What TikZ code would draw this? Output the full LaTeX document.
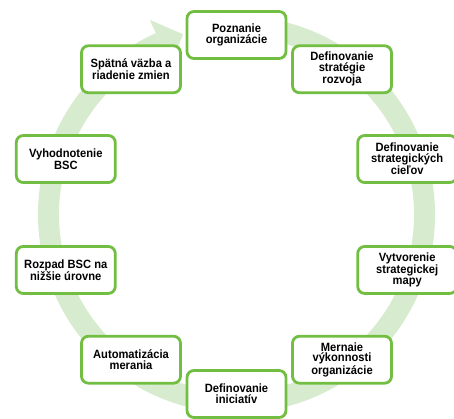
\documentclass[tikz,border=0pt]{standalone}
\usepackage{fontspec}
\setmainfont{Liberation Sans}[FakeStretch=0.93]
\definecolor{boxgreen}{RGB}{114,190,66}
\definecolor{ringgreen}{RGB}{215,236,207}
\tikzset{
  stepbox/.style={
    draw=boxgreen,
    line width=2.8pt,
    fill=white,
    rounded corners=7pt,
    minimum width=99pt,
    minimum height=47pt,
    inner sep=1pt,
    align=center,
    font=\bfseries\fontsize{12}{10.6}\selectfont
  },
  ring/.style={draw=ringgreen, line width=21pt}
}

\begin{document}
\begin{tikzpicture}[x=1pt,y=1pt]
\useasboundingbox (0,0) rectangle (454,419);
\begin{scope}[shift={(236.5,204.5)}]
% cyklus
\draw[ring] (100:188) arc[start angle=100, end angle=-246, radius=188];
\fill[ringgreen] (-246:163) -- (-246:213) -- (-253.5:188) -- cycle;
\foreach \ang/\nm/\txt in {
  90/poznanie/{Poznanie\\organizácie},
  54/strategia/{Definovanie\\stratégie\\rozvoja},
  18/ciele/{Definovanie\\strategických\\cieľov},
  -18/mapa/{Vytvorenie\\strategickej\\mapy},
  -54/meranie/{Mernaie\\výkonnosti\\organizácie},
  -90/iniciativy/{Definovanie\\iniciatív},
  -126/automat/{Automatizácia\\merania},
  -162/rozpad/{Rozpad BSC na\\nižšie úrovne},
  162/vyhodnotenie/{Vyhodnotenie\\BSC},
  126/spatna/{Spätná väzba a\\riadenie zmien}} {
  \node[stepbox] (\nm) at (\ang:179.5) {\txt};
}
\end{scope}
\end{tikzpicture}
\end{document}
